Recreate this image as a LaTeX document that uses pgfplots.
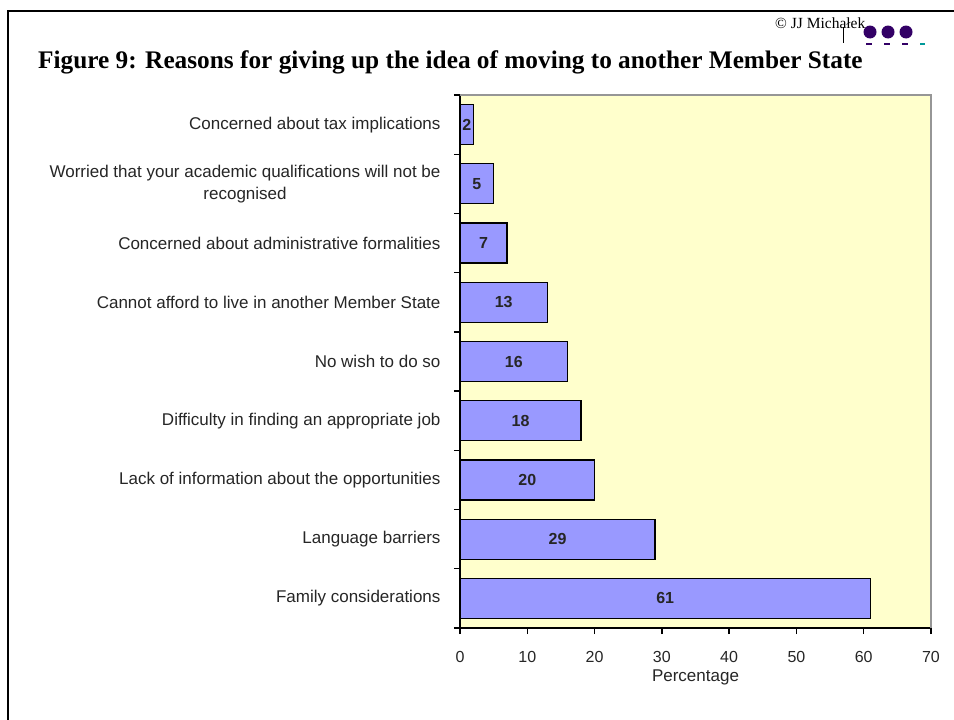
\documentclass[border=0pt]{standalone}
\usepackage{pgfplots}
\usepackage{pgfplotstable}
\pgfplotsset{compat=1.18}
\usepackage{fontspec}
\setmainfont{Liberation Sans}
\newfontfamily\timesfont{Liberation Serif}
\definecolor{bg}{RGB}{255,255,204}
\definecolor{barc}{RGB}{153,153,255}
\definecolor{dots}{RGB}{51,0,102}
\definecolor{teal2}{RGB}{0,153,153}
\definecolor{frame}{RGB}{150,150,150}
\pgfplotstableread{
y v h
8 2 1
7 5 2.5
6 7 3.5
5 13 6.5
4 16 8
3 18 9
2 20 10
1 29 14.5
0 61 30.5
}\data
\begin{document}
\begin{tikzpicture}[x=1pt,y=1pt]
\path[use as bounding box] (0,0) rectangle (954,-720);
\fill[white] (0,0) rectangle (954,-720);
\draw[line width=2pt] (955,-11) -- (8,-11) -- (8,-721);
\node[anchor=base west, inner sep=0, font=\timesfont\bfseries\fontsize{25.3}{28}\selectfont] at (38,-68) {Figure 9: Reasons for giving up the idea of moving to another Member State};
\node[anchor=base west, inner sep=0, font=\timesfont\fontsize{15.5}{17}\selectfont] at (775,-28) {© JJ Michałek};
\draw[line width=1pt] (843,-27) -- (843,-43);
\fill[dots] (870,-32) circle (6.5);
\fill[dots] (888,-32) circle (6.5);
\fill[dots] (906,-32) circle (6.5);
\draw[dots, line width=1.5pt] (866,-44) -- (872,-44) (884,-44) -- (890,-44) (902,-44) -- (908,-44);
\draw[teal2, line width=1.5pt] (920,-44) -- (925,-44);
\begin{axis}[
  at={(460pt,-628pt)}, anchor=south west,
  scale only axis, width=471pt, height=533pt,
  xmin=0, xmax=70, ymin=-0.5, ymax=8.5,
  clip=false,
  /pgf/number format/assume math mode=true,
  axis background/.style={fill=bg},
  axis x line*=bottom, axis y line*=left,
  axis line style={line width=1.3pt, black},
  tick align=outside, major tick length=6pt,
  tick style={line width=1.3pt, black},
  xtick={0,10,...,70},
  ytick={-0.5,0.5,...,8.5},
  y tick label as interval,
  yticklabels={Family considerations, Language barriers, Lack of information about the opportunities, Difficulty in finding an appropriate job, No wish to do so, Cannot afford to live in another Member State, Concerned about administrative formalities, {Worried that your academic qualifications will not be\\recognised}, Concerned about tax implications},
  yticklabel style={align=center, font=\fontsize{17}{22}\selectfont, text=black!85, xshift=-10pt},
  xticklabel style={font=\fontsize{16}{18}\selectfont, text=black!85, yshift=-14pt},
  xlabel={Percentage},
  xlabel style={font=\fontsize{17}{19}\selectfont, text=black!85, yshift=0pt},
  bar width=40pt,
]
\addplot[xbar, bar shift=0pt, fill=barc, draw=black, line width=1.3pt] table[x=v, y=y] {\data};
\addplot[draw=none, mark=none, nodes near coords, point meta=explicit,
  nodes near coords style={anchor=center, font=\bfseries\fontsize{16}{18}\selectfont, text=black!85}]
  table[x=h, y=y, meta=v] {\data};
\draw[frame, line width=2pt] (rel axis cs:0,1) -- (rel axis cs:1,1) -- (rel axis cs:1,0);
\end{axis}
\end{tikzpicture}
\end{document}
